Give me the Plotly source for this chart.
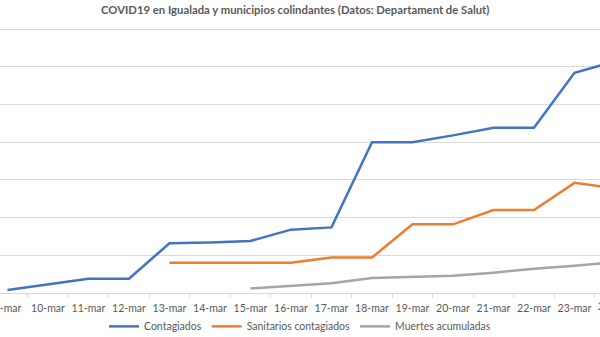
import plotly.graph_objects as go

# Dates (day-month, Spanish short form)
dates = ["9-mar", "10-mar", "11-mar", "12-mar", "13-mar", "14-mar", "15-mar", "16-mar",
         "17-mar", "18-mar", "19-mar", "20-mar", "21-mar", "22-mar", "23-mar", "24-mar"]

# Cumulative counts per day (None = no data yet)
contagiados = [4, 11, 19, 19, 66, 67, 69, 84, 87, 200, 200, 209, 219, 219, 292, 307]
sanitarios = [None, None, None, None, 40, 40, 40, 40, 47, 47, 91, 91, 110, 110, 146, 139]
muertes = [None, None, None, None, None, None, 6, 10, 13, 20, 22, 23, 27, 32, 36, 41]

series = [
    ("Contagiados", contagiados, "#4472C4"),
    ("Sanitarios contagiados", sanitarios, "#ED7D31"),
    ("Muertes acumuladas", muertes, "#A5A5A5"),
]

TEXT = "#595959"
GRID = "#D9D9D9"
FONT = "Lato"

fig = go.Figure()
for name, vals, color in series:
    fig.add_trace(go.Scatter(
        x=dates, y=vals, name=name, mode="lines",
        line=dict(color=color, width=2.5),
        connectgaps=False,
    ))

fig.update_layout(
    width=600, height=337,
    margin=dict(l=0, r=0, t=26, b=43.5, autoexpand=False),
    paper_bgcolor="white", plot_bgcolor="white",
    title=dict(
        text="<b>COVID19 en Igualada y municipios colindantes (Datos: Departament de Salut)</b>",
        x=0.492, xanchor="center", y=0.97, yanchor="middle",
        font=dict(family=FONT, size=11.3, color=TEXT),
    ),
    showlegend=True,
    legend=dict(
        orientation="h", x=0.5, xanchor="center", y=-0.125, yanchor="middle",
        font=dict(family=FONT, size=10.5, color=TEXT),
        itemwidth=30, bgcolor="rgba(0,0,0,0)",
    ),
    xaxis=dict(
        type="category", range=[-0.185, 14.63],
        showgrid=False, showline=True, linecolor=GRID, linewidth=1,
        ticks="outside", tickson="boundaries", ticklen=4, tickcolor=GRID,
        tickangle=0, ticklabelstandoff=5,
        tickfont=dict(family=FONT, size=10.5, color=TEXT),
        automargin=False, fixedrange=True,
    ),
    yaxis=dict(
        range=[0, 354], dtick=50, showticklabels=False,
        showgrid=True, gridcolor=GRID, gridwidth=1,
        zeroline=False, showline=False, automargin=False,
    ),
)

# Last date label sits just past the visible edge of the axis
fig.add_annotation(
    xref="paper", yref="paper", x=(7.5 + 40.5 * 15) / 600, y=-0.05,
    text=dates[-1], showarrow=False, xanchor="center", yanchor="middle",
    font=dict(family=FONT, size=10.5, color=TEXT),
)

fig.write_html("out.html")
